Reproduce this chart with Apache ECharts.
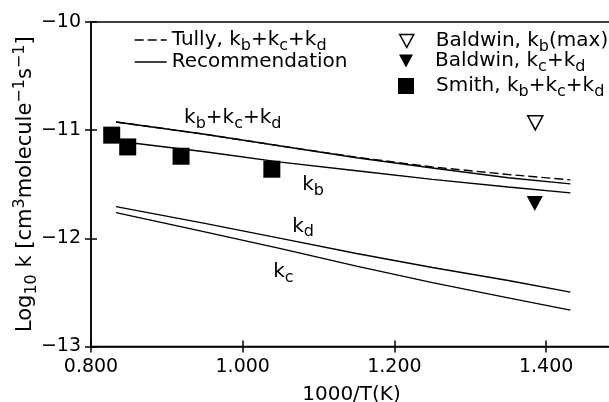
<!DOCTYPE html>
<html><head><meta charset="utf-8">
<script src="https://cdn.jsdelivr.net/npm/echarts@6/dist/echarts.min.js"></script>
<style>html,body{margin:0;padding:0;background:#fff}#c{width:609px;height:402px}</style>
</head><body><div id="c"></div>
<script>
// ---- data ----
const lineX      = [0.833, 0.95, 1.05, 1.15, 1.25, 1.35, 1.432];
const tullyTotal = [-10.924, -11.038, -11.146, -11.25, -11.34, -11.41, -11.46];
const recTotal   = [-10.924, -11.038, -11.146, -11.255, -11.35, -11.44, -11.497];
const recKb      = [-11.10, -11.20, -11.295, -11.375, -11.455, -11.525, -11.58];
const recKd      = [-11.707, -11.862, -12.0, -12.14, -12.27, -12.39, -12.497];
const recKc      = [-11.762, -11.94, -12.095, -12.257, -12.41, -12.55, -12.664];
const smithX     = [0.8273, 0.8484, 0.9187, 1.0384];
const smithY     = [-11.046, -11.155, -11.241, -11.361];
const baldwinMaxX = [1.3857];
const baldwinMaxY = [-10.932];
const baldwinCdX  = [1.385];
const baldwinCdY  = [-11.679];
const xTickValues = [0.8, 1.0, 1.2, 1.4];
const xTickLabels = ['0.800', '1.000', '1.200', '1.400'];
const yTickValues = [-13, -12, -11, -10];
const yTickLabels = ['\u221213', '\u221212', '\u221211', '\u221210'];
const seriesNames = ['Tully', 'Recommendation', 'kb', 'kd', 'kc', 'BaldwinMax', 'BaldwinCd', 'Smith'];
const legendTexts = {
  Tully: '{n|Tully, k}{s|b}{n|+k}{s|c}{n|+k}{s|d}',
  Recommendation: '{n|Recommendation}',
  BaldwinMax: '{g| }{n|Baldwin, k}{s|b}{n|(max)}',
  BaldwinCd: '{g| }{n|Baldwin, k}{s|c}{n|+k}{s|d}',
  Smith: '{g| }{n|Smith, k}{s|b}{n|+k}{s|c}{n|+k}{s|d}'
};
const annotationTexts = ['{n|k}{s|b}{n|+k}{s|c}{n|+k}{s|d}', '{n|k}{s|b}', '{n|k}{s|d}', '{n|k}{s|c}'];
const annotationAt = [[0.9227, -10.889], [1.0784, -11.509], [1.0652, -11.889], [1.0401, -12.306]];

// ---- styling ----
const F = 'DejaVu Sans';
const DOWN_TRI = 'path://M0,0 L12,0 L6,11 Z';
const makeRich = (fs, ss, lh, off) => ({
  n: {fontFamily: F, fontSize: fs, lineHeight: lh, color: '#000', fill: '#000'},
  s: {fontFamily: F, fontSize: ss, height: lh - 2 * off, verticalAlign: 'bottom', color: '#000', fill: '#000'},
  p: {fontFamily: F, fontSize: ss, height: lh - 2 * off, verticalAlign: 'top', color: '#000', fill: '#000'},
  g: {fontFamily: F, fontSize: fs, width: 17, lineHeight: lh}
});
const rich = makeRich(20, 16, 26, 6);
const richName = makeRich(21, 16, 28, 6);
const zip = (xs, ys) => xs.map((x, i) => [x, ys[i]]);
const lbl = (vals, labels) => v => { const i = vals.findIndex(t => Math.abs(t - v) < 1e-6); return i < 0 ? '' : labels[i]; };
const blk = {color: '#000', width: 1.5};

const chart = echarts.init(document.getElementById('c'), null, {renderer: 'canvas'});
const lineSeries = (name, ys, dashed) => ({
  name, type: 'line', data: zip(lineX, ys), symbol: 'none', silent: true,
  lineStyle: {color: '#000', width: 1.4, type: dashed ? [9, 4] : 'solid'},
  itemStyle: {color: '#000'}
});
const legendItem = (name, left, top, w, h, extra) => Object.assign({
  data: [name], left, top, padding: 0, itemWidth: w, itemHeight: h, selectedMode: false,
  formatter: n => legendTexts[n], textStyle: {rich, fontFamily: F, fontSize: 20, color: '#000'}
}, extra || {});
const lineLegendStyle = {itemStyle: {opacity: 0, borderWidth: 0}, lineStyle: {color: '#000', width: 1.4}};

chart.setOption({
  animation: false,
  backgroundColor: '#fff',
  grid: {left: 91, top: 22, width: 531, height: 324.5, show: true, borderColor: '#000', borderWidth: 1.5,
         containLabel: false, outerBoundsMode: 'none'},
  legend: [
    legendItem('Tully', 134, 30, 32, 14, lineLegendStyle),
    legendItem('Recommendation', 134, 52, 32, 14, lineLegendStyle),
    legendItem('BaldwinMax', 399, 31, 14, 13, {icon: DOWN_TRI,
      itemStyle: {color: '#fff', borderColor: '#000', borderWidth: 1.5, opacity: 1}}),
    legendItem('BaldwinCd', 399, 51, 14, 13, {icon: DOWN_TRI, itemStyle: {color: '#000', opacity: 1}}),
    legendItem('Smith', 398, 76, 16, 16, {icon: 'rect', itemStyle: {color: '#000', opacity: 1}})
  ],
  xAxis: [{
    type: 'value', min: 0.8, max: 1.5, interval: 0.2,
    axisLine: {lineStyle: blk}, axisTick: {length: 6, lineStyle: blk},
    axisLabel: {color: '#000', fontFamily: F, fontSize: 19, margin: 11, showMaxLabel: false,
                formatter: lbl(xTickValues, xTickLabels)},
    splitLine: {show: false},
    name: '1000/T(K)', nameLocation: 'middle', nameGap: 38, nameMoveOverlap: false,
    nameTextStyle: {color: '#000', fontFamily: F, fontSize: 20, padding: [0, 10, 0, 0]}
  }, {
    type: 'value', min: 0.8, max: 1.5, interval: 0.2, position: 'bottom', offset: 0,
    axisLine: {show: false}, axisTick: {inside: true, length: 6, lineStyle: blk},
    axisLabel: {show: false}, splitLine: {show: false}
  }],
  yAxis: [{
    type: 'value', min: -13, max: -10, interval: 1,
    axisLine: {lineStyle: blk}, axisTick: {length: 6, lineStyle: blk},
    axisLabel: {color: '#000', fontFamily: F, fontSize: 19, margin: 10, formatter: lbl(yTickValues, yTickLabels)},
    splitLine: {show: false},
    name: '{n|Log}{s|10}{n| k [cm}{p|3}{n|molecule}{p|\u22121}{n|s}{p|\u22121}{n|]}',
    nameLocation: 'middle', nameRotate: 90, nameGap: 51, nameMoveOverlap: false,
    nameTextStyle: {rich: richName, color: '#000', fontFamily: F, fontSize: 21}
  }, {
    type: 'value', min: -13, max: -10, interval: 1, position: 'left', offset: 0,
    axisLine: {show: false}, axisTick: {inside: true, length: 6, lineStyle: blk},
    axisLabel: {show: false}, splitLine: {show: false}
  }],
  series: [
    lineSeries(seriesNames[0], tullyTotal, true),
    lineSeries(seriesNames[1], recTotal, false),
    lineSeries(seriesNames[2], recKb, false),
    lineSeries(seriesNames[3], recKd, false),
    lineSeries(seriesNames[4], recKc, false),
    {name: seriesNames[5], type: 'scatter', data: zip(baldwinMaxX, baldwinMaxY), symbol: 'triangle',
     symbolRotate: 180, symbolSize: [15, 14], silent: true,
     itemStyle: {color: '#fff', borderColor: '#000', borderWidth: 1.5, opacity: 1}},
    {name: seriesNames[6], type: 'scatter', data: zip(baldwinCdX, baldwinCdY), symbol: 'triangle',
     symbolRotate: 180, symbolSize: [16, 15], silent: true, itemStyle: {color: '#000', opacity: 1}},
    {name: seriesNames[7], type: 'scatter', data: zip(smithX, smithY), symbol: 'rect',
     symbolSize: 17, silent: true, itemStyle: {color: '#000', opacity: 1}}
  ]
});

const graphics = annotationAt.map((c, i) => {
  const p = chart.convertToPixel({gridIndex: 0}, c);
  return {type: 'text', x: p[0], y: p[1], silent: true,
          style: {text: annotationTexts[i], rich, align: 'left', verticalAlign: 'middle', fill: '#000'}};
});
chart.setOption({graphic: graphics});
</script></body></html>
